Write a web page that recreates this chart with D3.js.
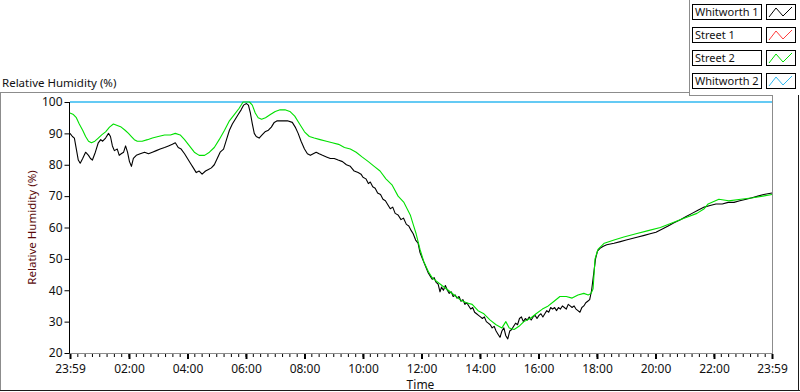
<!DOCTYPE html>
<html>
<head>
<meta charset="utf-8">
<script src="https://cdn.jsdelivr.net/npm/d3@7"></script>
<style>
  body { margin: 0; background: #fff; }
  svg { display: block; font-family: "Noto Sans", "DejaVu Sans", sans-serif; }
</style>
</head>
<body>
<svg id="chart"></svg>
<script>
// series names and colours, legend order
const seriesNames = ['Whitworth 1', 'Street 1', 'Street 2', 'Whitworth 2'];
const seriesColours = ['#000000', '#ff3c3c', '#00e000', '#30b8f0'];

// y axis ticks
const yTicks = [20, 30, 40, 50, 60, 70, 80, 90, 100];
// x axis ticks (minutes after midnight) and their labels
const xTicks = [-1, 120, 240, 360, 480, 600, 720, 840, 960, 1080, 1200, 1320, 1439];
const xTickLabels = ['23:59', '02:00', '04:00', '06:00', '08:00', '10:00', '12:00',
  '14:00', '16:00', '18:00', '20:00', '22:00', '23:59'];

// Whitworth 1 : minutes after midnight, RH %
const whitworth1Time = [-1,4,8,12,16,20,25,31,37,41,45,51,57,62,66,72,78,82,86,90,96,100,104,109,113,117,121,125,129,135,143,152,160,168,176,184,193,201,209,215,221,227,234,240,246,252,258,264,270,277,283,289,295,301,307,314,320,326,332,338,344,350,355,361,365,369,373,377,381,387,393,399,406,412,418,424,435,445,455,461,467,473,480,486,492,498,504,510,517,525,533,541,549,558,566,574,582,590,596,
  600,606,611,615,620,625,630,636,641,646,650,656,661,666,672,678,683,689,694,699,703,708,713,717,722,726,730,734,738,742,746,750,754,758,761,765,769,773,777,781,785,789,793,797,801,805,809,813,817,821,825,829,833,837,841,845,849,853,857,861,865,869,873,877,881,885,889,893,897,901,905,909,913,917,921,925,929,933,937,941,945,949,953,957,961,965,969,973,977,981,985,989,993,997,1001,1005,1009,1013,1017,1021,1025,1029,1033,1037,1041,1045,1049,1053,1057,1061,1065,1069,1073,1077,1081,1087,1093,1100,
  1115,1128,1140,1152,1164,1177,1189,1201,1214,1226,1238,1251,1263,1275,1287,1300,1312,1324,1337,1349,1361,1373,1386,1398,1410,1422,1439];
const whitworth1RH = [90,89,88.5,85,81.5,80.5,82,84,83,82,81.5,84,87,88,87.5,88.5,90,89,86,84.5,85,83,83.5,84,86,84,81,79.5,82,83,83.5,84,83.5,84,84.5,85,85.5,86,86.5,87,85.5,85,83.5,82,80.5,79,77.5,78,77,78,78.5,79,80,82,84,85,88,91,93,94.5,96,97.5,99,99.5,99,96.5,93,90,89,88.5,89.5,90.5,91,92,93.5,94,94,94,93.5,92,90,87.5,85,83.5,83,83.5,84,83.5,83,82.5,82,82,81.5,81,80,79.5,78,77.5,77,
  76,75.5,74,74.5,73,72.5,71,70.5,69,68.5,67.5,66,66.5,64.5,64,62.5,63,61,60.5,59,58,56,55,52,50,48.5,47,45.5,44.5,43.5,44,42.5,42,39.5,41,40,41.5,40,39,39.5,38,38.5,37.5,38,36.5,37,35.5,36,35,34,34.5,33,32.5,32,31.5,31,31.5,30,29.5,29,28,28.5,27,26,25,27,28,25.5,24.5,27,27.5,28.5,29.5,29,31,31.5,30,31,30.5,31.5,30.5,31.5,32,31,32,32.5,31.5,32.5,33.5,33,34.5,34,34.5,33.5,34.5,34,35,34.5,34,35.5,35,34.5,35,34,33.5,33,34.5,35,36,36.5,37,40,45,50,52.5,53.5,54,54.5,
  55,55.5,56,56.5,57,57.5,58,58.5,59.5,60.5,61.5,62.5,63.5,64.5,65.5,66.5,67,67.5,67.5,68,68,68.5,69,69.5,70,70.5,71];

// Street 1 : no readings shown on the graph
const street1Time = [];
const street1RH = [];

// Street 2 : minutes after midnight, RH %
const street2Time = [-1,6,12,18,25,31,37,43,50,57,64,72,80,88,96,104,112,119,125,131,137,147,158,168,180,193,205,215,225,234,244,254,264,275,285,295,305,316,326,336,346,354,367,373,379,385,392,400,410,420,430,440,450,460,470,480,490,500,512,525,537,550,562,574,586,598,611,623,635,647,660,672,684,697,703,709,717,725,734,742,750,762,775,787,799,812,824,836,848,861,873,885,893,900,910,920,930,943,955,968,980,992,1004,1017,1029,1041,1053,1062,1068,1072,1076,1082,1095,1115,1135,1160,1185,1210,1235,1260,1285,1300,1308,1330,1350,1375,1400,1420,1439];
const street2RH = [96.5,96,95,93,91,89,87.5,87,87.5,88.5,89.5,90.5,92,93,92.5,92,91,90,89,88,87.5,87.5,88,88.5,89,89.5,89.5,90,89.5,88,86,84,83,83,84,85.5,88,91,94,96,98,100,100,99,96.5,95,94.5,95,96,97,97.5,97.5,97,95.5,93,90.5,89,88.5,88,87.5,87,86.5,85.5,85,84,82.5,81,79.5,78,75.5,73.5,70,68,64,61,58,53,49,46,44,43,41.5,40,38.5,37,36,35.5,33.5,32.5,30.5,29,28,30,28,27.5,28.5,30,31,32.5,34,35,36.5,38,38,37.5,38.5,39,38.5,39,40.5,50,53,55,56,57,58,59,60,61.5,63,64.5,66,67.5,69,68.5,69,69.5,70,70.5,71];

// Whitworth 2 : sits at 100 % all day
const whitworth2Time = [-1, 1439];
const whitworth2RH = [100, 100];

const width = 800, height = 392;
const plot = { left: 69, right: 772, top: 102, bottom: 353 };
const font = '"Noto Sans", "DejaVu Sans", sans-serif';

const svg = d3.select('#chart')
  .attr('width', width)
  .attr('height', height);

const x = d3.scaleLinear().domain([-1, 1439]).range([plot.left + 1, plot.right]);
const y = d3.scaleLinear().domain([20, 100]).range([plot.bottom, plot.top]);

// outer frame of the graph panel
const frame = [
  [0.5, 92, 0.5, 390, '#8c8c8c'],
  [0, 92.5, 690, 92.5, '#8c8c8c'],
  [689.5, 0, 689.5, 96, '#8c8c8c'],
  [689.5, 95.5, 773, 95.5, '#8c8c8c'],
  [0, 390.5, 800, 390.5, '#1a1a1a'],
  [798.5, 95, 798.5, 391, '#1a1a1a']
];
frame.forEach(f => {
  svg.append('line')
    .attr('x1', f[0]).attr('y1', f[1]).attr('x2', f[2]).attr('y2', f[3])
    .attr('stroke', f[4]);
});

// graph title
svg.append('text')
  .attr('x', 2).attr('y', 87)
  .attr('font-size', 11.5)
  .attr('fill', '#111')
  .text('Relative Humidity (%)');

// plot area border (right and bottom are grey)
svg.append('line').attr('x1', plot.right + 0.5).attr('x2', plot.right + 0.5)
  .attr('y1', 96).attr('y2', plot.bottom + 0.5).attr('stroke', '#8c8c8c');
svg.append('line').attr('x1', plot.left).attr('x2', plot.right + 1)
  .attr('y1', plot.bottom + 0.5).attr('y2', plot.bottom + 0.5).attr('stroke', '#8c8c8c');

// y axis
const yAxis = d3.axisLeft(y).tickValues(yTicks).tickSize(5).tickPadding(2);
const yG = svg.append('g')
  .attr('transform', `translate(${plot.left + 0.5},0)`)
  .call(yAxis);
yG.select('.domain').attr('stroke', '#000').attr('d', `M0,${plot.top}V${plot.bottom + 0.5}`);
yG.selectAll('text').attr('font-size', 12).attr('fill', '#111').attr('font-family', font);

// x axis, minor ticks every quarter hour
const minorTicks = d3.range(-1 + 15, 1439, 15);
const xMinor = d3.axisBottom(x).tickValues(minorTicks).tickSize(3).tickFormat('');
svg.append('g')
  .attr('transform', `translate(0,${plot.bottom + 1})`)
  .call(xMinor)
  .call(g => g.select('.domain').remove())
  .selectAll('line').attr('stroke', '#000');

const xAxis = d3.axisBottom(x)
  .tickValues(xTicks)
  .tickSize(5)
  .tickPadding(5)
  .tickFormat((d, i) => xTickLabels[i]);
const xG = svg.append('g')
  .attr('transform', `translate(0,${plot.bottom + 1})`)
  .call(xAxis);
xG.select('.domain').remove();
xG.selectAll('line').attr('stroke', '#000').attr('stroke-width', 2);
xG.selectAll('text').attr('font-size', 12).attr('fill', '#111').attr('font-family', font);

// axis titles
svg.append('text')
  .attr('x', (plot.left + plot.right) / 2)
  .attr('y', 389)
  .attr('text-anchor', 'middle')
  .attr('font-size', 12)
  .attr('fill', '#111')
  .text('Time');

svg.append('text')
  .attr('transform', `translate(36,${(plot.top + plot.bottom) / 2}) rotate(-90)`)
  .attr('text-anchor', 'middle')
  .attr('font-size', 11.5)
  .attr('fill', '#5a0a0a')
  .text('Relative Humidity (%)');

// the series
const seriesData = [
  d3.zip(whitworth1Time, whitworth1RH),
  d3.zip(street1Time, street1RH),
  d3.zip(street2Time, street2RH),
  d3.zip(whitworth2Time, whitworth2RH)
];

const line = d3.line()
  .x(d => x(d[0]))
  .y(d => y(d[1]));

// draw order: Whitworth 2 first, then Street 1, Whitworth 1, Street 2 on top
const drawOrder = [3, 1, 0, 2];
drawOrder.forEach(i => {
  if (!seriesData[i].length) return;
  svg.append('path')
    .datum(seriesData[i])
    .attr('d', line)
    .attr('fill', 'none')
    .attr('stroke', seriesColours[i])
    .attr('stroke-width', i === 3 ? 1.5 : 1.1)
    .attr('stroke-linejoin', 'round');
});

// legend
const legendTop = 4, legendStep = 23;
const legend = svg.append('g');
seriesNames.forEach((name, i) => {
  const ly = legendTop + i * legendStep;
  legend.append('rect')
    .attr('x', 692.5).attr('y', ly + 0.5)
    .attr('width', 69).attr('height', 15)
    .attr('fill', '#fff').attr('stroke', '#000');
  legend.append('text')
    .attr('x', 695).attr('y', ly + 12)
    .attr('font-size', 11)
    .attr('fill', '#111')
    .text(name);
  legend.append('rect')
    .attr('x', 766.5).attr('y', ly + 0.5)
    .attr('width', 29).attr('height', 15)
    .attr('fill', '#fff').attr('stroke', '#000');
  legend.append('path')
    .attr('d', `M${769},${ly + 13}L${776},${ly + 4}L${783},${ly + 12}L${792},${ly + 3}`)
    .attr('fill', 'none')
    .attr('stroke', seriesColours[i])
    .attr('stroke-width', 1);
});
</script>
</body>
</html>
